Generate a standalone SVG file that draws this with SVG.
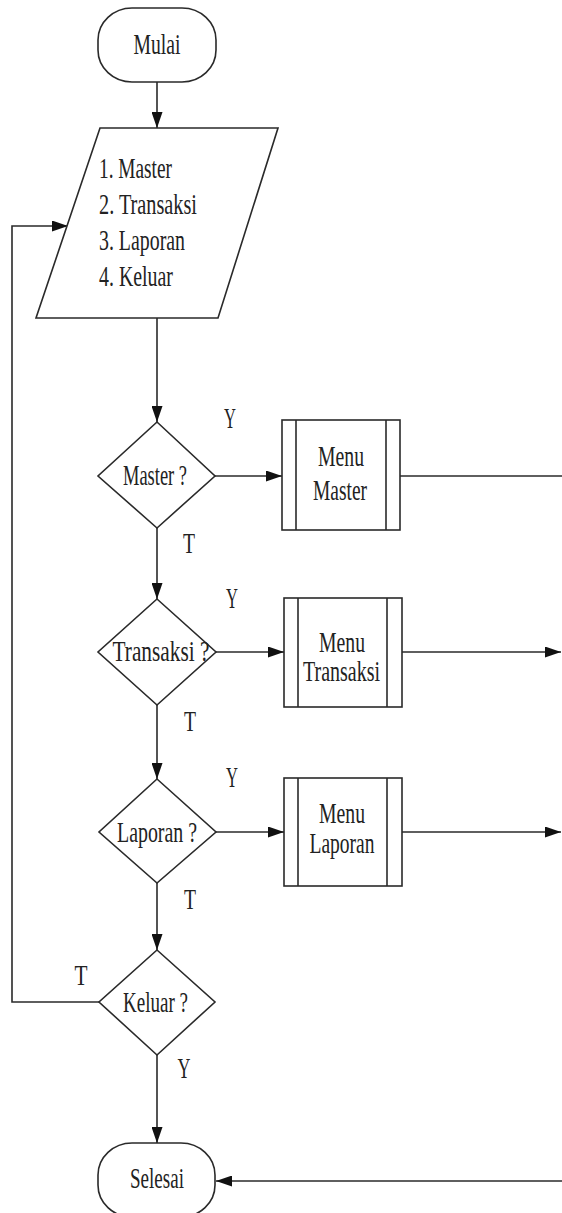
<svg xmlns="http://www.w3.org/2000/svg" width="562" height="1213" viewBox="0 0 562 1213">
<style>
.s{fill:#fff;stroke:#2a2a2a;stroke-width:1.6}
.l{fill:none;stroke:#2a2a2a;stroke-width:1.6}
text{font-family:"Liberation Serif","Times New Roman",serif;font-size:29px;fill:#222}
.c{text-anchor:middle}
</style>
<defs>
<marker id="a" markerWidth="16" markerHeight="11" refX="16" refY="5.5" orient="auto" markerUnits="userSpaceOnUse">
<path d="M0,0 L16,5.5 L0,11 Z" fill="#111"/>
</marker>
</defs>
<rect width="562" height="1213" fill="#fff"/>
<g id="connectors">
<line class="l" x1="157" y1="82" x2="157" y2="128" marker-end="url(#a)"/>
<line class="l" x1="157" y1="318" x2="157" y2="422" marker-end="url(#a)"/>
<line class="l" x1="157" y1="528" x2="157" y2="599" marker-end="url(#a)"/>
<line class="l" x1="157" y1="705" x2="157" y2="779" marker-end="url(#a)"/>
<line class="l" x1="157" y1="883" x2="157" y2="950" marker-end="url(#a)"/>
<line class="l" x1="157" y1="1055" x2="157" y2="1143" marker-end="url(#a)"/>
<polyline class="l" points="99,1002 12,1002 12,226 68,226" marker-end="url(#a)"/>
<line class="l" x1="215" y1="476" x2="282" y2="476" marker-end="url(#a)"/>
<line class="l" x1="400" y1="476" x2="562" y2="476"/>
<line class="l" x1="216" y1="652" x2="284" y2="652" marker-end="url(#a)"/>
<line class="l" x1="402" y1="652" x2="561" y2="652" marker-end="url(#a)"/>
<line class="l" x1="216" y1="832" x2="284" y2="832" marker-end="url(#a)"/>
<line class="l" x1="402" y1="832" x2="561" y2="832" marker-end="url(#a)"/>
<line class="l" x1="562" y1="1181" x2="216" y2="1181" marker-end="url(#a)"/>
<text x="230" y="428" class="c" textLength="12" lengthAdjust="spacingAndGlyphs">Y</text>
<text x="189" y="553" class="c" textLength="12" lengthAdjust="spacingAndGlyphs">T</text>
<text x="232" y="608" class="c" textLength="12" lengthAdjust="spacingAndGlyphs">Y</text>
<text x="190" y="731" class="c" textLength="12" lengthAdjust="spacingAndGlyphs">T</text>
<text x="232" y="787" class="c" textLength="12" lengthAdjust="spacingAndGlyphs">Y</text>
<text x="190" y="909" class="c" textLength="12" lengthAdjust="spacingAndGlyphs">T</text>
<text x="81" y="985" class="c" textLength="13" lengthAdjust="spacingAndGlyphs">T</text>
<text x="184" y="1078" class="c" textLength="13" lengthAdjust="spacingAndGlyphs">Y</text>
</g>
<g id="mulai">
<rect class="s" x="98" y="8" width="118" height="74" rx="34" ry="32"/>
<text x="157" y="54" class="c" textLength="47" lengthAdjust="spacingAndGlyphs">Mulai</text>
</g>
<g id="menu-input">
<polygon class="s" points="100,128 278,128 218,318 36,318"/>
<text x="99" y="178" textLength="73" lengthAdjust="spacingAndGlyphs">1. Master</text>
<text x="99" y="214" textLength="98" lengthAdjust="spacingAndGlyphs">2. Transaksi</text>
<text x="99" y="250" textLength="86" lengthAdjust="spacingAndGlyphs">3. Laporan</text>
<text x="99" y="286" textLength="74" lengthAdjust="spacingAndGlyphs">4. Keluar</text>
</g>
<g id="master-decision">
<polygon class="s" points="157,422 215,476 157,528 98,476"/>
<text x="155" y="485" class="c" textLength="64" lengthAdjust="spacingAndGlyphs">Master ?</text>
</g>
<g id="menu-master">
<rect class="s" x="282" y="420" width="118" height="110"/>
<line class="l" x1="296" y1="420" x2="296" y2="530"/>
<line class="l" x1="386" y1="420" x2="386" y2="530"/>
<text x="341" y="466" class="c" textLength="46" lengthAdjust="spacingAndGlyphs">Menu</text>
<text x="340" y="500" class="c" textLength="54" lengthAdjust="spacingAndGlyphs">Master</text>
</g>
<g id="transaksi-decision">
<polygon class="s" points="157,599 216,652 157,705 98,652"/>
<text x="161" y="661" class="c" textLength="97" lengthAdjust="spacingAndGlyphs">Transaksi ?</text>
</g>
<g id="menu-transaksi">
<rect class="s" x="284" y="598" width="118" height="109"/>
<line class="l" x1="298" y1="598" x2="298" y2="707"/>
<line class="l" x1="387" y1="598" x2="387" y2="707"/>
<text x="342" y="652" class="c" textLength="46" lengthAdjust="spacingAndGlyphs">Menu</text>
<text x="341.5" y="681" class="c" textLength="77" lengthAdjust="spacingAndGlyphs">Transaksi</text>
</g>
<g id="laporan-decision">
<polygon class="s" points="157,779 216,832 157,883 99,832"/>
<text x="157" y="842" class="c" textLength="80" lengthAdjust="spacingAndGlyphs">Laporan ?</text>
</g>
<g id="menu-laporan">
<rect class="s" x="284" y="778" width="118" height="108"/>
<line class="l" x1="298" y1="778" x2="298" y2="886"/>
<line class="l" x1="387" y1="778" x2="387" y2="886"/>
<text x="342" y="823" class="c" textLength="46" lengthAdjust="spacingAndGlyphs">Menu</text>
<text x="342" y="853" class="c" textLength="65" lengthAdjust="spacingAndGlyphs">Laporan</text>
</g>
<g id="keluar-decision">
<polygon class="s" points="157,950 215,1002 157,1055 99,1002"/>
<text x="155.5" y="1012" class="c" textLength="65" lengthAdjust="spacingAndGlyphs">Keluar ?</text>
</g>
<g id="selesai">
<rect class="s" x="98" y="1143" width="117" height="74" rx="34" ry="32"/>
<text x="157" y="1188" class="c" textLength="54" lengthAdjust="spacingAndGlyphs">Selesai</text>
</g>
</svg>
